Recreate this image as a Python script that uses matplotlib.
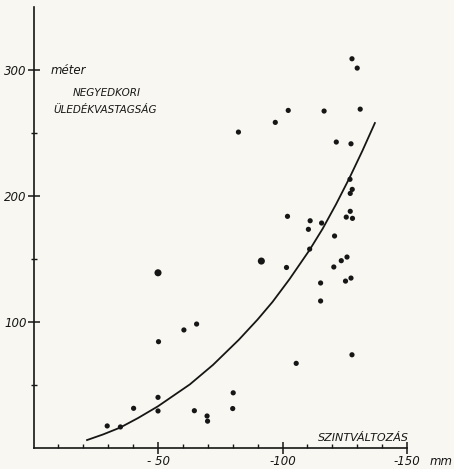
import numpy as np
import matplotlib
matplotlib.use('Agg')
import matplotlib.pyplot as plt

# level change (mm) vs. quaternary sediment thickness (m)
shift = [-127.9, -130.0, -102.3, -116.7, -131.2, -97.1, -82.3, -121.6, -127.5,
         -127.1, -128.0, -127.2, -102.0, -111.1, -110.4, -115.7, -127.2, -125.6,
         -128.1, -120.9, -110.9, -125.9, -123.6, -120.6, -101.6, -115.3, -125.3,
         -127.5, -115.3, -127.9, -105.5, -80.2, -80.0, -50.2, -60.4, -65.5,
         -50.0, -50.0, -40.2, -29.6, -34.9, -64.6, -69.7, -69.9]
thick = [309, 301.6, 268, 267.5, 269, 258.5, 250.8, 242.9, 241.5,
         213.3, 205.3, 202.1, 183.9, 180.4, 173.6, 178.6, 187.9, 183.3,
         182.3, 168.3, 157.9, 151.6, 148.7, 143.7, 143.3, 131, 132.5,
         134.9, 116.7, 74, 67.2, 43.8, 31.3, 84.4, 93.7, 98.4,
         40.2, 29.4, 31.5, 17.5, 16.7, 29.6, 25.4, 21.3]

# the two larger dots
big_shift = [-50.0, -91.5]
big_thick = [139.1, 148.4]

# trend curve, points
curve_shift = [-21.5, -28.0, -34.8, -42.0, -49.9, -62.8, -72.1, -82.5, -90.0,
               -96.0, -102.8, -110.8, -116.1, -121.5, -126.8, -132.1, -137.1]
curve_thick = [6.3, 10.8, 16.2, 23.8, 33, 50.5, 66, 86, 102,
               116, 134, 157, 174, 193.5, 214, 236, 258]

paper = '#f8f7f1'
ink = '#161616'

plt.rcParams['font.family'] = ['DejaVu Sans']
plt.rcParams['font.style'] = 'italic'

fig = plt.figure(figsize=(4.54, 4.69), dpi=100, facecolor=paper)
ax = fig.add_axes([0.0738, 0.0448, 0.8227, 0.940])
ax.set_facecolor(paper)

ax.plot(curve_shift, curve_thick, color=ink, lw=1.3, solid_joinstyle='round')
ax.scatter(shift, thick, s=14, color=ink, edgecolors='none', zorder=3)
ax.scatter(big_shift, big_thick, s=26, color=ink, edgecolors='none', zorder=3)

ax.set_xlim(0, -150)
ax.set_ylim(0, 350)

for s in ['top', 'right']:
    ax.spines[s].set_visible(False)
for s in ['left', 'bottom']:
    ax.spines[s].set_color(ink)
    ax.spines[s].set_linewidth(1.2)

ax.set_xticks([-50, -100, -150])
ax.set_xticklabels(['- 50', '-100', '-150'])
ax.set_xticks(np.arange(-10, -150, -10), minor=True)
ax.set_yticks([100, 200, 300])
ax.set_yticks([50, 150, 250], minor=True)

ax.tick_params(which='major', direction='inout', length=8, width=1.1,
               color=ink, labelcolor=ink, labelsize=8.5)
ax.tick_params(which='minor', direction='in', length=3, width=1.0, color=ink)
ax.tick_params(axis='y', which='minor', direction='inout', length=5)
ax.tick_params(axis='y', pad=1)
ax.tick_params(axis='x', pad=1)

ax.text(-6.8, 300, 'méter', fontsize=8.5, color=ink, va='center', ha='left')
ax.text(-15.6, 281.7, 'NEGYEDKORI', fontsize=7.5, color=ink, va='center', ha='left')
ax.text(-8.0, 268, 'ÜLEDÉKVASTAGSÁG', fontsize=7.5, color=ink, va='center', ha='left')
ax.text(-114.3, 8.2, 'SZINTVÁLTOZÁS', fontsize=8, color=ink, va='center', ha='left')
ax.text(-163.6, -10.9, 'mm', fontsize=8.5, color=ink, va='center', ha='center',
        clip_on=False)

fig.savefig('out.png', dpi=100, facecolor=paper)
